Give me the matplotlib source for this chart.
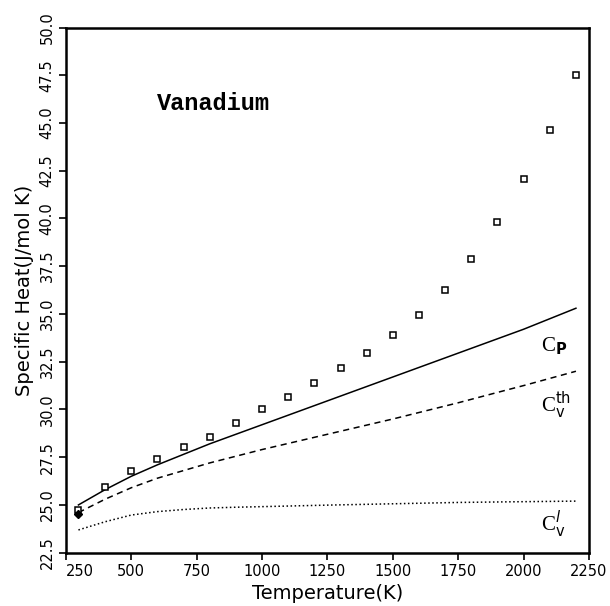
import matplotlib
matplotlib.use("Agg")
import matplotlib.pyplot as plt

# datos experimentales (cuadrados)
t_exp = [298, 400, 500, 600, 700, 800, 900, 1000, 1100, 1200, 1300, 1400,
         1500, 1600, 1700, 1800, 1900, 2000, 2100, 2200]
cp_exp = [24.74, 25.94, 26.76, 27.42, 28.02, 28.57, 29.27, 30.0, 30.67, 31.4,
          32.17, 32.97, 33.91, 34.93, 36.25, 37.88, 39.81, 42.07, 44.63, 47.53]
t_ref = [298]
cp_ref = [24.51]

# curvas calculadas
t_calc = [298, 400, 500, 600, 700, 800, 900, 1000, 1250, 1500, 1750, 1930, 2000, 2200]
cp_calc = [25.0, 25.8, 26.5, 27.1, 27.65, 28.2, 28.7, 29.2, 30.45, 31.7,
           32.95, 33.85, 34.2, 35.3]
cv_th = [24.6, 25.3, 25.9, 26.4, 26.8, 27.2, 27.55, 27.9, 28.7, 29.5,
         30.35, 31.0, 31.25, 32.0]
cv_l = [23.69, 24.12, 24.47, 24.65, 24.76, 24.84, 24.88, 24.91, 24.99, 25.06,
        25.13, 25.16, 25.17, 25.2]

fig = plt.figure(figsize=(6.1, 6.06), dpi=100)
ax = fig.add_axes([0.108, 0.088, 0.8576, 0.8666])

ax.plot(t_calc, cp_calc, "k-", lw=1.1)
ax.plot(t_calc, cv_th, "k--", lw=1.1, dashes=(4, 3))
ax.plot(t_calc, cv_l, "k:", lw=1.1)
ax.plot(t_exp, cp_exp, "s", ms=5, mfc="white", mec="k", mew=1.1, ls="none")
ax.plot(t_ref, cp_ref, "D", ms=4.5, mfc="k", mec="k", ls="none")

ax.set_xlim(250, 2250)
ax.set_ylim(22.5, 50.0)
xt = [250, 500, 750, 1000, 1250, 1500, 1750, 2000, 2250]
yt = [22.5 + 2.5 * i for i in range(12)]
ax.set_xticks(xt)
ax.set_yticks(yt)
ax.set_xticklabels([str(v) for v in xt], fontsize=10.5)
ax.set_yticklabels([f"{v:.1f}" for v in yt], fontsize=10.5, rotation=90, va="center")
ax.get_xticklabels()[0].set_ha("left")
ax.tick_params(direction="out", length=5, width=1.2, pad=3)
for s in ax.spines.values():
    s.set_linewidth(1.8)

ax.set_xlabel("Temperature(K)", fontsize=14, labelpad=4)
ax.set_ylabel("Specific Heat(J/mol K)", fontsize=14, labelpad=4)

ax.text(0.174, 0.856, "Vanadium", transform=ax.transAxes, fontsize=17,
        family="Liberation Mono", weight="bold", va="center")

lab = dict(fontsize=15, family="Liberation Serif", ha="left", va="center")
ax.text(2065, 33.3, r"C$_{\mathbf{P}}$", **lab)
ax.text(2065, 30.2, r"C$^{\mathrm{th}}_{\mathrm{v}}$", **lab)
ax.text(2065, 24.0, r"C$^{l}_{\mathrm{v}}$", **lab)

fig.savefig("out.png", dpi=100)
